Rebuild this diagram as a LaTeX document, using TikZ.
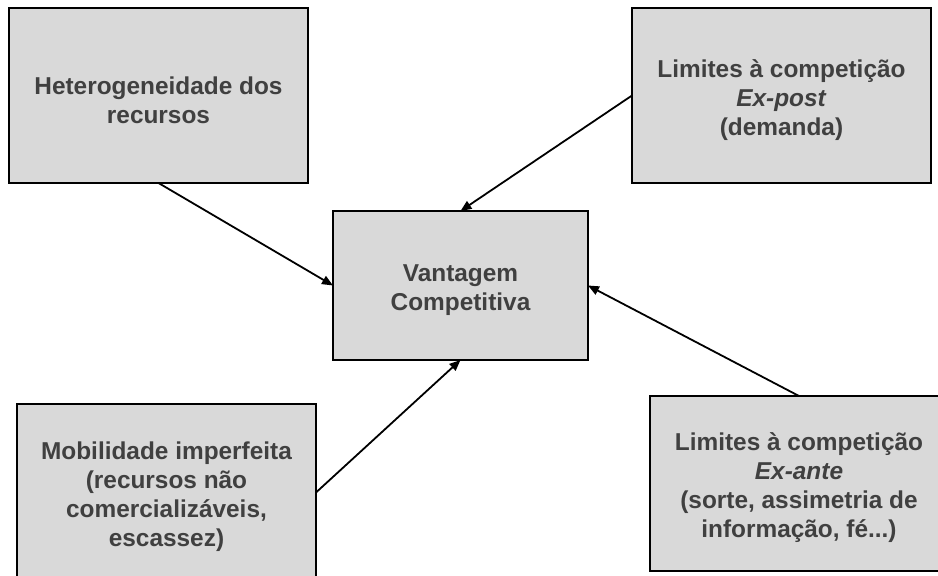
\documentclass[tikz,border=0pt]{standalone}
\usepackage{fontspec}
\setmainfont{Liberation Sans}
\usetikzlibrary{arrows.meta}
\definecolor{boxfill}{HTML}{D9D9D9}
\definecolor{boxtext}{HTML}{404040}
\begin{document}
\begin{tikzpicture}[x=1pt,y=-1pt,
  factor/.style={draw=black, line width=1.4pt, fill=boxfill,
    inner sep=0pt, outer sep=0pt},
  factortext/.style={text=boxtext, align=center, inner sep=0pt, yshift=-4.5pt,
    font=\fontsize{24.4}{29}\selectfont\bfseries},
  link/.style={line width=1.8pt, -{Triangle[length=11pt,width=9pt]}}]
  \useasboundingbox (0,0) rectangle (938,576);
  \begin{scope}
    \clip (0,0) rectangle (938,576);
    \node[factor, minimum width=299pt, minimum height=175pt,
      label={[factortext]center:{Heterogeneidade dos\\recursos}}] (tl) at (158.5,95.5) {};
    \node[factor, minimum width=299pt, minimum height=175pt,
      label={[factortext]center:{Limites à competição\\\textit{Ex-post}\\(demanda)}}] (tr) at (781.5,95.5) {};
    \node[factor, minimum width=255pt, minimum height=149pt,
      label={[factortext]center:{Vantagem\\Competitiva}}] (cv) at (460.5,285.5) {};
    \node[factor, minimum width=299pt, minimum height=177pt,
      label={[factortext]center:{Mobilidade imperfeita\\(recursos não\\comercializáveis,\\escassez)}}] (bl) at (166.5,492.5) {};
    \node[factor, minimum width=298pt, minimum height=175pt,
      label={[factortext]center:{Limites à competição\\\textit{Ex-ante}\\(sorte, assimetria de\\informação, fé...)}}] (br) at (799,483.5) {};
  \end{scope}
  \draw[link] (tl.south) -- (cv.west);
  \draw[link] (tr.west) -- (cv.north);
  \draw[link] (bl.east) -- (cv.south);
  \draw[link] (br.north) -- (cv.east);
\end{tikzpicture}
\end{document}
